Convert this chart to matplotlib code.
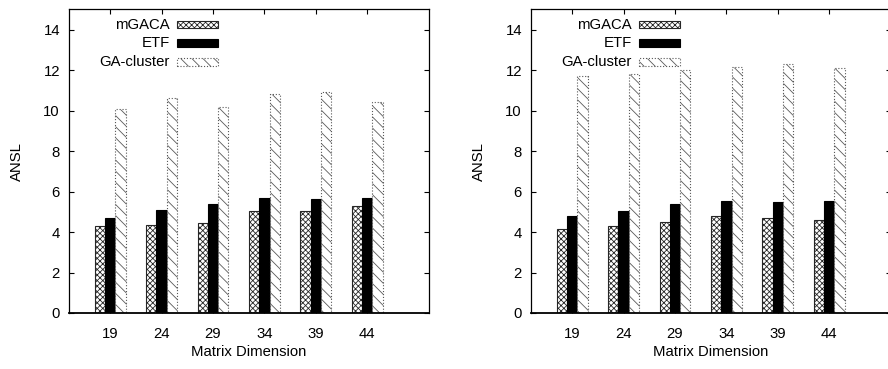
import numpy as np
import matplotlib
matplotlib.use('Agg')
import matplotlib.pyplot as plt
from matplotlib.patches import Rectangle

plt.rcParams['font.family'] = ['Liberation Sans', 'DejaVu Sans']
plt.rcParams['hatch.linewidth'] = 0.6

# data
dims = ['19', '24', '29', '34', '39', '44']
series = ['mGACA', 'ETF', 'GA-cluster']

left_mgaca = [4.29, 4.36, 4.47, 5.03, 5.03, 5.28]
left_etf = [4.69, 5.07, 5.40, 5.68, 5.63, 5.68]
left_ga = [10.08, 10.63, 10.18, 10.83, 10.94, 10.42]

right_mgaca = [4.13, 4.29, 4.49, 4.77, 4.67, 4.59]
right_etf = [4.79, 5.05, 5.40, 5.53, 5.50, 5.53]
right_ga = [11.72, 11.82, 12.02, 12.16, 12.31, 12.13]

# bar styles (face, hatch, edge, linestyle)
styles = [
    dict(facecolor='white', hatch='xxxxxx', edgecolor='0.15', linestyle='-'),
    dict(facecolor='black', hatch=None, edgecolor='black', linestyle='-'),
    dict(facecolor='white', hatch='\\\\\\', edgecolor='0.35', linestyle=':'),
]

FS = 10.7

fig = plt.figure(figsize=(8.88, 3.69), dpi=100)
ax1 = fig.add_axes([0.0777, 0.1518, 0.4054, 0.8225])
ax2 = fig.add_axes([0.598, 0.1518, 0.4054, 0.8225])


def draw_panel(ax, values):
    x = np.arange(len(dims))
    w = 0.2
    offs = [-w, 0, w]
    for k in range(3):
        ax.bar(x + offs[k], values[k], width=w, linewidth=0.8, **styles[k])

    ax.set_xlim(-0.8, 6.2)
    ax.set_ylim(0, 15)
    ax.set_xticks(x)
    ax.set_xticklabels(dims)
    ax.set_yticks(np.arange(0, 15, 2))
    ax.tick_params(direction='in', top=True, right=True, length=3.5,
                   labelsize=FS, width=0.8)
    ax.tick_params(axis='x', pad=10)
    ax.tick_params(axis='y', pad=6.5)
    for s in ax.spines.values():
        s.set_linewidth(0.9)
    ax.spines['bottom'].set_linewidth(1.3)
    ax.set_xlabel('Matrix Dimension', fontsize=FS, labelpad=3)
    ax.set_ylabel('ANSL', fontsize=FS, labelpad=14)

    # legend drawn by hand: text right aligned, sample box after it
    rows = [0.950, 0.890, 0.827]
    for k in range(3):
        ax.text(0.28, rows[k], series[k], transform=ax.transAxes,
                ha='right', va='center', fontsize=FS)
        r = Rectangle((0.30, rows[k] - 0.012), 0.114, 0.024,
                      transform=ax.transAxes, linewidth=0.8, **styles[k])
        ax.add_patch(r)


draw_panel(ax1, [left_mgaca, left_etf, left_ga])
draw_panel(ax2, [right_mgaca, right_etf, right_ga])

fig.savefig('out.png', dpi=100)
